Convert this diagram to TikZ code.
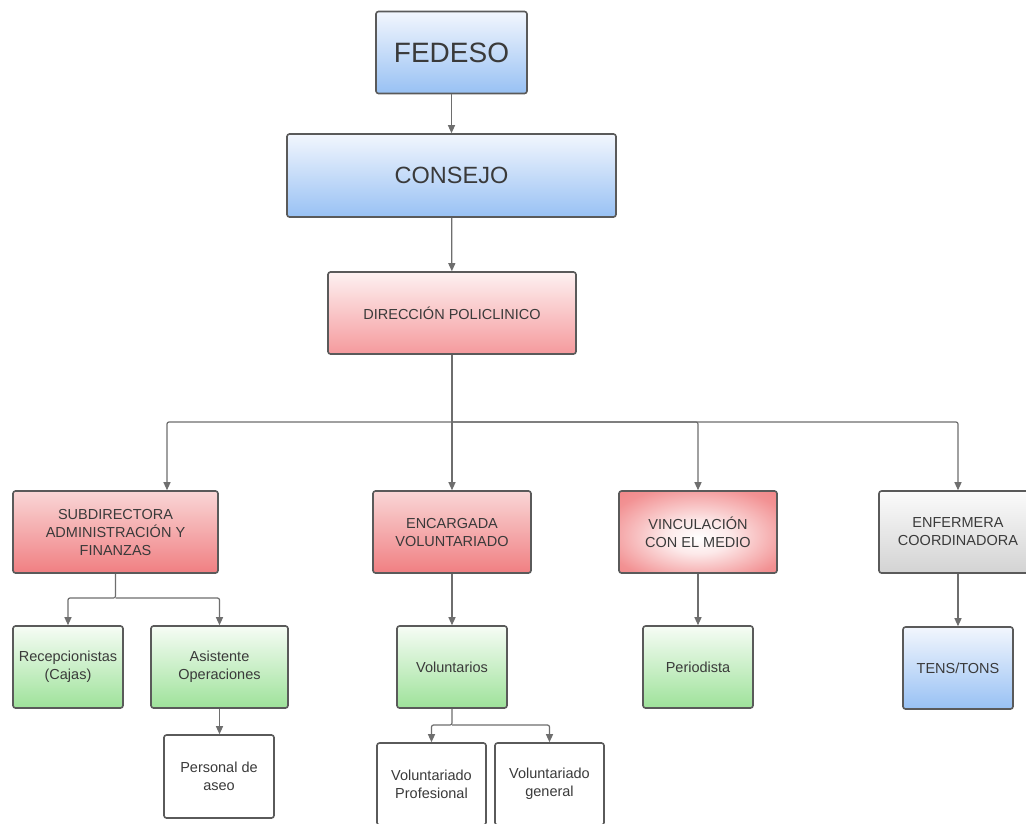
\documentclass[tikz,border=0pt]{standalone}
\usepackage{fontspec}
\setmainfont{Liberation Sans}
\usetikzlibrary{arrows.meta}
\definecolor{boxline}{HTML}{5A5A5A}
\definecolor{linegray}{HTML}{6E6E6E}
\definecolor{txtgray}{HTML}{3A3A3A}
\definecolor{bluetop}{HTML}{F2F6FD}
\definecolor{bluebot}{HTML}{98C1F4}
\definecolor{redtop}{HTML}{FDF1F1}
\definecolor{redbot}{HTML}{F59A9D}
\definecolor{redtopb}{HTML}{F9D6D6}
\definecolor{redbotb}{HTML}{F07F82}
\definecolor{vinred}{HTML}{EE6E70}
\definecolor{greentop}{HTML}{F6FCF5}
\definecolor{greenbot}{HTML}{9EE29A}
\definecolor{greytop}{HTML}{FBFBFB}
\definecolor{greybot}{HTML}{D3D3D3}
\pgfdeclareradialshading{vinglow}{\pgfpoint{0bp}{-4bp}}{color(0bp)=(white); color(10bp)=(white!85!vinred); color(30bp)=(vinred!75!white); color(50bp)=(vinred)}
\tikzset{
  orgbox/.style={draw=boxline, line width=1.6pt, rounded corners=2.5pt, inner sep=2pt,
    align=center, text=txtgray, minimum height=82pt, font=\fontsize{14.5}{18}\selectfont},
  bluebox/.style={orgbox, top color=bluetop, bottom color=bluebot},
  redbox/.style={orgbox, top color=redtop, bottom color=redbot},
  darkredbox/.style={orgbox, top color=redtopb, bottom color=redbotb},
  glowbox/.style={orgbox, shading=vinglow},
  greenbox/.style={orgbox, top color=greentop, bottom color=greenbot},
  greybox/.style={orgbox, top color=greytop, bottom color=greybot},
  whitebox/.style={orgbox, fill=white},
  conn/.style={draw=linegray, line width=1.2pt, rounded corners=2pt, -{Triangle[length=8pt,width=7pt]}},
}
\begin{document}
\begin{tikzpicture}[x=1pt,y=-1pt]
\useasboundingbox (0,0) rectangle (1026,823);
\fill[white] (0,0) rectangle (1026,823);

\node[bluebox, minimum width=151pt, font=\fontsize{28}{32}\selectfont] (fedeso) at (451.5,52.5) {FEDESO};
\node[bluebox, minimum width=329pt, minimum height=83pt, font=\fontsize{23.5}{28}\selectfont] (consejo) at (451.5,175.5) {CONSEJO};
\node[redbox, minimum width=248pt] (dir) at (452,313) {DIRECCIÓN POLICLINICO};

\node[darkredbox, minimum width=205pt] (sub) at (115.5,532) {SUBDIRECTORA\\ADMINISTRACIÓN Y\\FINANZAS};
\node[darkredbox, minimum width=158pt] (enc) at (452,532) {ENCARGADA\\VOLUNTARIADO};
\node[glowbox, minimum width=158pt] (vin) at (698,532) {VINCULACIÓN\\CON EL MEDIO};
\node[greybox, minimum width=158pt] (enf) at (958,532) {ENFERMERA\\COORDINADORA};

\node[greenbox, minimum width=110pt] (rec) at (68,667) {Recepcionistas\\(Cajas)};
\node[greenbox, minimum width=137pt] (asi) at (219.5,667) {Asistente\\Operaciones};
\node[whitebox, minimum width=110pt, minimum height=83pt] (per) at (219,776.5) {Personal de\\aseo};
\node[greenbox, minimum width=110pt] (vol) at (452,667) {Voluntarios};
\node[whitebox, minimum width=109pt] (vp) at (431.5,784) {Voluntariado\\Profesional};
\node[whitebox, minimum width=109pt] (vg) at (549.5,784) {Voluntariado\\general};
\node[greenbox, minimum width=110pt] (peri) at (698,667) {Periodista};
\node[bluebox, minimum width=110pt] (tens) at (958,668) {TENS/TONS};

\draw[conn] (fedeso) -- (consejo);
\draw[conn] (consejo) -- (dir);
\coordinate (bus) at (452,422);
\draw[conn] (dir) -- (enc);
\draw[conn] (bus) -| ([xshift=51.5pt]sub.north);
\draw[conn] (bus) -| (vin.north);
\draw[conn] (bus) -| (enf.north);

\coordinate (subbus) at (115.5,598);
\draw[conn] (sub.south) -- (subbus) -| (rec.north);
\draw[conn] (subbus) -| (asi.north);
\draw[conn] (asi.south) -- (asi.south |- per.north);

\draw[conn] (enc) -- (vol);
\coordinate (volbus) at (452,725);
\draw[conn] (vol.south) -- (volbus) -| (vp.north);
\draw[conn] (volbus) -| (vg.north);

\draw[conn] (vin) -- (peri);
\draw[conn] (enf) -- (tens);
\end{tikzpicture}
\end{document}
